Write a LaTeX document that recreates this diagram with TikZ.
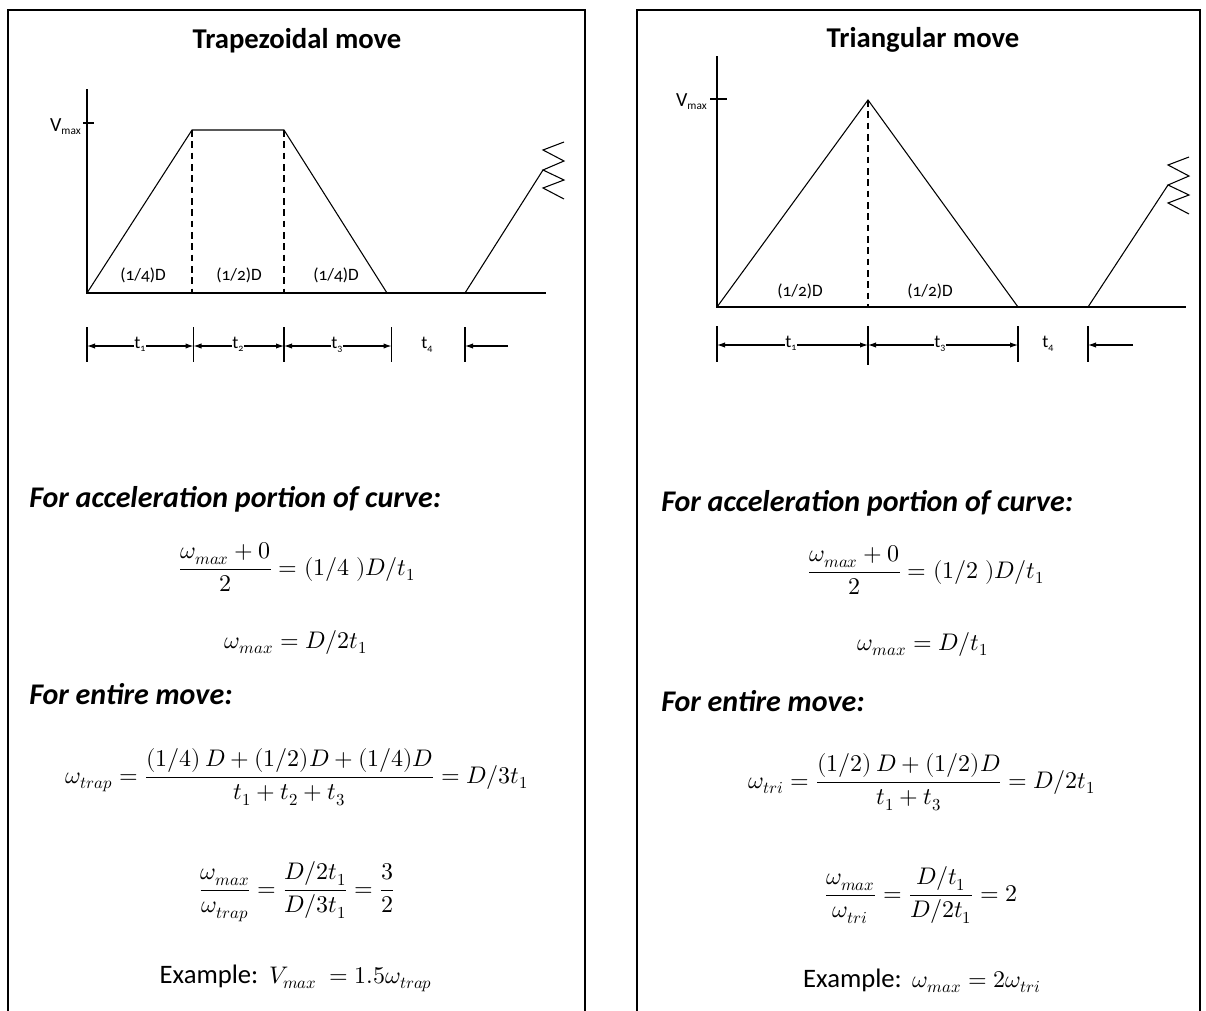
\documentclass[tikz,border=0pt]{standalone}
\usepackage{amsmath}
\usepackage{unicode-math}
\setmainfont{Carlito}
\newfontfamily\oldnum{Carlito}[Numbers=OldStyle]
\usetikzlibrary{arrows.meta}
\newcommand{\lowsub}[1]{\raisebox{-2.5pt}{\fontsize{7.5}{8}\selectfont\oldnum #1}}
\newcommand{\vsub}[1]{\raisebox{-2.5pt}{\fontsize{8.5}{9}\selectfont #1}}
\tikzset{
  panelframe/.style={line width=1.5pt, line cap=butt},
  curve/.style={line width=0.8pt},
  dashline/.style={line width=0.8pt, dash pattern=on 5pt off 3.5pt},
  dimtick/.style={line width=0.8pt},
  dimarrow/.style={line width=0.8pt, -{Latex[length=6pt,width=4pt]}},
  paneltitle/.style={font=\fontsize{21.5}{26}\selectfont\bfseries, anchor=base, inner sep=0pt},
  heading/.style={font=\fontsize{22.5}{27}\selectfont\bfseries\itshape, anchor=base west, inner sep=0pt},
  arealab/.style={font=\oldnum\fontsize{13}{15}\selectfont, inner sep=0pt},
  tlab/.style={font=\fontsize{13.5}{15}\selectfont, anchor=base, inner sep=0pt},
  vlab/.style={font=\fontsize{15}{17}\selectfont, anchor=base east, inner sep=0pt},
  eq/.style={font=\fontsize{18}{22}\selectfont, anchor=base, inner sep=0pt},
}
\begin{document}
\begin{tikzpicture}[x=0.75pt,y=-0.75pt]
\useasboundingbox (0,0) rectangle (1206,1010);

% ---------------- frames ----------------
\draw[panelframe] (8,1012) -- (8,10) -- (585,10) -- (585,1012);
\draw[panelframe] (637,1012) -- (637,10) -- (1200,10) -- (1200,1012);

% ================= LEFT: trapezoidal =================
\node[paneltitle] (Ltitle) at (297,48) {Trapezoidal move};

\coordinate (Lo) at (87,293);
\coordinate (Ltop) at (87,89);
\coordinate (Lend) at (546,293);
\coordinate (LA) at (192,130);
\coordinate (LB) at (284,130);
\coordinate (LC) at (387,293);
\coordinate (LD) at (465,293);
\coordinate (LE) at (543,170);
\coordinate (Lvt) at (87,123);

\draw[curve] (Ltop) -- (Lo) -- (Lend);
\draw[curve] (Lvt) +(-4,0) -- +(7,0);
\node[vlab] (Lvmax) at (81,131) {V\vsub{max}};
\draw[curve] (Lo) -- (LA) -- (LB) -- (LC);
\draw[dashline] (LA) -- (LA |- Lo);
\draw[dashline] (LB) -- (LB |- Lo);
\draw[curve] (LD) -- (LE);
\draw[curve] (LE) +(21,-28) -- +(0,-20) -- +(21,-9) -- +(0,0) -- +(21,10) -- +(0,18) -- +(21,29);

\node[arealab] (Lar1) at (143,275) {(1/4)D};
\node[arealab] (Lar2) at (239,275) {(1/2)D};
\node[arealab] (Lar3) at (336,275) {(1/4)D};

% dimension lines
\coordinate (Lk1) at (87,346);
\coordinate (Lk2) at (193.5,346);
\coordinate (Lk3) at (284,346);
\coordinate (Lk4) at (391.5,346);
\coordinate (Lk5) at (465,346);
\coordinate (Lk6) at (508,346);
\foreach \k in {Lk1,Lk2,Lk3,Lk4,Lk5}{
  \draw[dimtick] (\k) +(0,-19) -- +(0,16);
}
\node[tlab] (Lt1) at (140,348) {t\lowsub{1}};
\node[tlab] (Lt2) at (238,348) {t\lowsub{2}};
\node[tlab] (Lt3) at (337,348) {t\lowsub{3}};
\node[tlab] (Lt4) at (427,348) {t\lowsub{4}};
\draw[dimarrow] (Lt1.west |- Lk1) -- (Lk1);
\draw[dimarrow] (Lt1.east |- Lk1) -- (Lk2);
\draw[dimarrow] (Lt2.west |- Lk1) -- (Lk2);
\draw[dimarrow] (Lt2.east |- Lk1) -- (Lk3);
\draw[dimarrow] (Lt3.west |- Lk1) -- (Lk3);
\draw[dimarrow] (Lt3.east |- Lk1) -- (Lk4);
\draw[dimarrow] (Lk6) -- (Lk5);

% texts
\node[heading] (Lh1) at (29,507) {For acceleration portion of curve:};
\node[eq] (Leq1) at (297,575) {$\dfrac{\omega_{max}+0}{2} = (1/4\;)D/t_1$};
\node[eq] (Leq2) at (296,648) {$\omega_{max} = D/2t_1$};
\node[heading] (Lh2) at (29,704) {For entire move:};
\node[eq] (Leq3) at (297,783) {$\omega_{trap} = \dfrac{(1/4)\,D + (1/2)D + (1/4)D}{t_1+t_2+t_3} = D/3t_1$};
\node[eq] (Leq4) at (297,896) {$\dfrac{\omega_{max}}{\omega_{trap}} = \dfrac{D/2t_1}{D/3t_1} = \dfrac{3}{2}$};
\node[eq] (Leq5) at (296,983) {{\fontsize{20}{24}\selectfont Example:}\ \ $V_{max}\ = 1.5\omega_{trap}$};

% ================= RIGHT: triangular =================
\node[paneltitle] (Rtitle) at (923,47) {Triangular move};

\coordinate (Ro) at (717,307);
\coordinate (Rtop) at (717,56);
\coordinate (Rend) at (1186,307);
\coordinate (RA) at (868,100);
\coordinate (RC) at (1018,307);
\coordinate (RD) at (1088,307);
\coordinate (RE) at (1168,185);
\coordinate (Rvt) at (717,99);

\draw[curve] (Rtop) -- (Ro) -- (Rend);
\draw[curve] (Rvt) +(-7,0) -- +(10,0);
\node[vlab] (Rvmax) at (707,106) {V\vsub{max}};
\draw[curve] (Ro) -- (RA) -- (RC);
\draw[dashline] (RA) -- (RA |- Ro);
\draw[curve] (RD) -- (RE);
\draw[curve] (RE) +(21,-28) -- +(0,-20) -- +(21,-9) -- +(0,0) -- +(21,10) -- +(0,18) -- +(21,29);

\node[arealab] (Rar1) at (800,291) {(1/2)D};
\node[arealab] (Rar2) at (930,291) {(1/2)D};

\coordinate (Rk1) at (717,345);
\coordinate (Rk2) at (868,345);
\coordinate (Rk3) at (1018,345);
\coordinate (Rk4) at (1088,345);
\coordinate (Rk5) at (1133,345);
\foreach \k in {Rk1,Rk3,Rk4}{
  \draw[dimtick] (\k) +(0,-19) -- +(0,17);
}
\draw[dimtick] (Rk2) +(0,-19) -- +(0,20);
\node[tlab] (Rt1) at (791,347) {t\lowsub{1}};
\node[tlab] (Rt3) at (940,347) {t\lowsub{3}};
\node[tlab] (Rt4) at (1048,347) {t\lowsub{4}};
\draw[dimarrow] (Rt1.west |- Rk1) -- (Rk1);
\draw[dimarrow] (Rt1.east |- Rk1) -- (Rk2);
\draw[dimarrow] (Rt3.west |- Rk1) -- (Rk2);
\draw[dimarrow] (Rt3.east |- Rk1) -- (Rk3);
\draw[dimarrow] (Rk5) -- (Rk4);

\node[heading] (Rh1) at (661,511) {For acceleration portion of curve:};
\node[eq] (Req1) at (926,578) {$\dfrac{\omega_{max}+0}{2} = (1/2\;)D/t_1$};
\node[eq] (Req2) at (923,650) {$\omega_{max} = D/t_1$};
\node[heading] (Rh2) at (661,711) {For entire move:};
\node[eq] (Req3) at (922,788) {$\omega_{tri} = \dfrac{(1/2)\,D + (1/2)D}{t_1+t_3} = D/2t_1$};
\node[eq] (Req4) at (921,901) {$\dfrac{\omega_{max}}{\omega_{tri}} = \dfrac{D/t_1}{D/2t_1} = 2$};
\node[eq] (Req5) at (922,987) {{\fontsize{20}{24}\selectfont Example:}\ \ $\omega_{max} = 2\omega_{tri}$};
\end{tikzpicture}
\end{document}
